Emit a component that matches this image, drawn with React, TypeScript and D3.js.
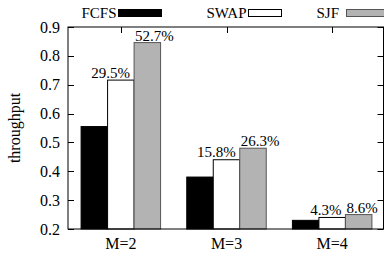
import React from 'react';
import * as d3 from 'd3';

// throughput per scheduling policy, for M=2..4
const groups = ['M=2', 'M=3', 'M=4'];
const series = ['FCFS', 'SWAP', 'SJF'];
const fcfs = [0.555, 0.38, 0.23];
const swap = [0.716, 0.44, 0.24];
const sjf = [0.846, 0.48, 0.25];
const swapGain = ['29.5%', '15.8%', '4.3%'];
const sjfGain = ['52.7%', '26.3%', '8.6%'];
const yTicks = [0.2, 0.3, 0.4, 0.5, 0.6, 0.7, 0.8, 0.9];

const W = 384;
const H = 254;
const margin = { top: 27, right: 0.5, bottom: 25, left: 68 };
const FONT = '"Liberation Serif", "DejaVu Serif", serif';

const fills = ['#000000', '#ffffff', '#b3b3b3'];
const strokes = ['#000000', '#000000', '#555555'];

const App = () => {
    const x = d3.scaleBand().domain(groups).range([margin.left, W + 1]).padding(0);
    const y = d3.scaleLinear().domain([0.2, 0.9]).range([H - margin.bottom, margin.top]);
    const barW = 26.5;
    const values = [fcfs, swap, sjf];

    const barX = (g: number, s: number) => x(groups[g])! + x.bandwidth() / 2 - 1.5 * barW + s * barW;

    const left = margin.left;
    const right = W - margin.right;
    const top = y(0.9);
    const bottom = y(0.2);

    // legend layout: text right end, box start, box width
    const legendPos = [
        { textEnd: 116.5, box: 118.5, w: 43 },
        { textEnd: 246.5, box: 248.5, w: 33 },
        { textEnd: 339, box: 346.5, w: 40 },
    ];

    return (
        <svg width={W} height={H} style={{ position: 'absolute', left: 0, top: 0, fontFamily: FONT }}>
            <rect width={W} height={H} fill="#fff" />

            {/* legend */}
            {series.map((s, i) => (
                <g key={s}>
                    <text x={legendPos[i].textEnd} y={18} textAnchor="end" fontSize={15}>{s}</text>
                    <rect x={legendPos[i].box} y={9.5} width={legendPos[i].w} height={7}
                        fill={fills[i]} stroke={strokes[i]} strokeWidth={1} />
                </g>
            ))}

            {/* y ticks */}
            {yTicks.map(t => (
                <g key={t}>
                    <line x1={left} x2={left + 6} y1={Math.round(y(t)) + 0.5} y2={Math.round(y(t)) + 0.5} stroke="#000" />
                    <line x1={right - 6} x2={right} y1={Math.round(y(t)) + 0.5} y2={Math.round(y(t)) + 0.5} stroke="#000" />
                    <text x={60} y={y(t) + 5.5} textAnchor="end" fontSize={16}>{t.toFixed(1)}</text>
                </g>
            ))}

            {/* x ticks on top */}
            {groups.map(g => (
                <line key={g} x1={Math.round(x(g)! + x.bandwidth() / 2) + 0.5} x2={Math.round(x(g)! + x.bandwidth() / 2) + 0.5}
                    y1={top} y2={top + 6} stroke="#000" />
            ))}

            {/* bars */}
            {groups.map((g, gi) => values.map((v, si) => (
                <rect key={g + si} x={barX(gi, si)} y={y(v[gi])} width={barW} height={bottom - y(v[gi])}
                    fill={fills[si]} stroke={strokes[si]} strokeWidth={1} />
            )))}

            {/* gain labels */}
            {groups.map((g, gi) => (
                <g key={'lab' + g} fontSize={15}>
                    <text x={barX(gi, 1) + barW - 4} y={y(swap[gi]) - 2.5} textAnchor="end">{swapGain[gi]}</text>
                    <text x={barX(gi, 2) + 1} y={y(sjf[gi]) - 2} textAnchor="start">{sjfGain[gi]}</text>
                </g>
            ))}

            {/* frame */}
            <rect x={left} y={top} width={right - left} height={bottom - top} fill="none" stroke="#000" strokeWidth={1} />

            {/* x labels */}
            {groups.map(g => (
                <text key={'x' + g} x={x(g)! + x.bandwidth() / 2} y={249} textAnchor="middle" fontSize={16}>{g}</text>
            ))}

            {/* y label */}
            <text transform={`translate(${20},${128}) rotate(-90)`} textAnchor="middle" fontSize={16}>throughput</text>
        </svg>
    );
};

export default App;
